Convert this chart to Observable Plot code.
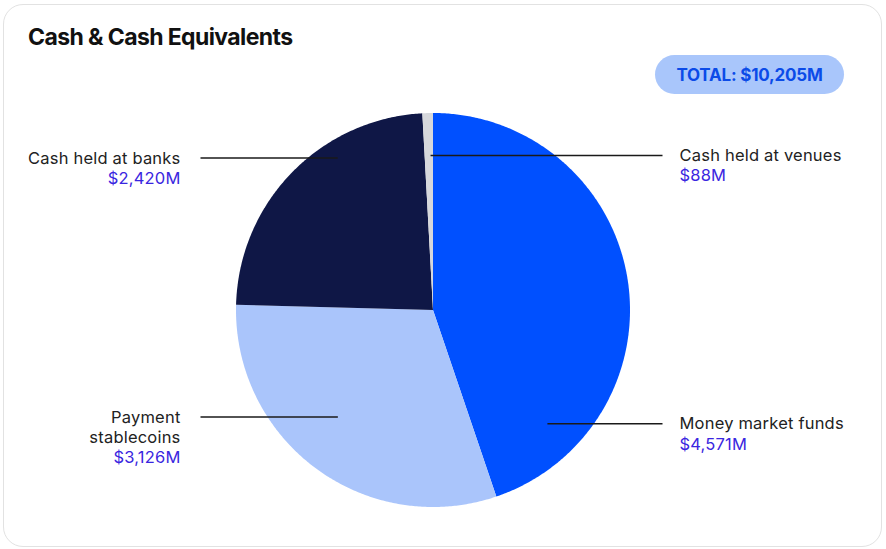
<!DOCTYPE html>
<html><head><meta charset="utf-8">
<script src="https://cdn.jsdelivr.net/npm/d3@7"></script>
<script src="https://cdn.jsdelivr.net/npm/@observablehq/plot@0.6"></script>
<style>
html,body{margin:0;padding:0;background:#fff;}
body{width:886px;height:549px;position:relative;overflow:hidden;font-family:Inter,sans-serif;}
#card{position:absolute;left:3px;top:4px;width:879px;height:543px;border:1px solid #e2e2e2;border-radius:20px;box-sizing:border-box;}
#title{position:absolute;left:28px;top:23px;font-size:23px;font-weight:700;letter-spacing:-0.6px;color:#111;}
#badge{position:absolute;left:655px;top:55px;width:189px;height:39px;border-radius:20px;background:#a9c6fb;color:#0b4be8;font-weight:700;font-size:17px;display:flex;align-items:center;justify-content:center;letter-spacing:-0.2px}
#chart{position:absolute;left:0;top:100px;}
#chart svg text{letter-spacing:0.2px;}
</style></head><body>
<div id="card"></div>
<div id="title">Cash &amp; Cash Equivalents</div>
<div id="badge"></div>
<div id="chart"></div>
<script>
// ---- data ----
const categories = ["Money market funds", "Payment stablecoins", "Cash held at banks", "Cash held at venues"];
const values = [4571, 3126, 2420, 88];
const valueLabels = ["$4,571M", "$3,126M", "$2,420M", "$88M"];
const nameLabels = ["Money market funds", "Payment\nstablecoins", "Cash held at banks", "Cash held at venues"];
const totalLabel = "TOTAL: $10,205M";
const colors = ["#0050ff", "#aac5fb", "#0f1746", "#d6d8dc"];

// ---- layout (label anchors: fraction along slice, fraction of radius, side) ----
const anchorFrac = [0.836, 0.55, 0.66, 0.65];
const anchorRad = [0.815, 0.727, 0.914, 0.787];
const labelSide = [1, -1, -1, 1];
const R = 197;
const leaderEnd = {left: 233, right: 229}, textGap = {left: 20, right: 17};

document.getElementById("badge").textContent = totalLabel;

const total = d3.sum(values);
let acc = 0;
const slices = categories.map((c, i) => {
  const a0 = acc / total * 360; acc += values[i];
  const a1 = acc / total * 360;
  return {name: c, a0, a1, i};
});
const rad = d => d * Math.PI / 180;
const pts = [];
for (const s of slices) {
  const n = Math.max(2, Math.ceil((s.a1 - s.a0) / 0.5));
  for (let k = 0; k <= n; k++) {
    const a = rad(s.a0 + (s.a1 - s.a0) * k / n);
    pts.push({name: s.name, x: R * Math.sin(a), y: R * Math.cos(a)});
  }
}
const labels = slices.map(s => {
  const a = rad(s.a0 + (s.a1 - s.a0) * anchorFrac[s.i]);
  const r = R * anchorRad[s.i];
  const side = labelSide[s.i];
  const key = side < 0 ? "left" : "right";
  const nLines = nameLabels[s.i].split("\n").length;
  return {
    ax: r * Math.sin(a), ay: r * Math.cos(a),
    lx: side * leaderEnd[key], tx: side * (leaderEnd[key] + textGap[key]), side,
    name: nameLabels[s.i], value: "\n".repeat(nLines) + valueLabels[s.i]
  };
});
const left = labels.filter(d => d.side < 0), right = labels.filter(d => d.side > 0);
const fs = 16.5, lh = 1.22, dy = -0.36 * fs - 2.5;
const textOpts = (side, field, fill) => ({
  x: "tx", y: "ay", text: field, fill, fontSize: fs, lineHeight: lh, lineAnchor: "top", dy,
  textAnchor: side < 0 ? "end" : "start", fontFamily: "Inter, sans-serif"
});

const chart = Plot.plot({
  width: 886, height: 440, margin: 0,
  x: {domain: [-433, 453], axis: null},
  y: {domain: [-230, 210], axis: null},
  color: {type: "ordinal", domain: categories, range: colors},
  marks: [
    Plot.area(pts, {x1: 0, y1: 0, x2: "x", y2: "y", fill: "name", z: "name"}),
    Plot.link(labels, {x1: "ax", y1: "ay", x2: "lx", y2: "ay", stroke: "#1a1a1a", strokeWidth: 1.5}),
    Plot.text(left, textOpts(-1, "name", "#222")),
    Plot.text(left, textOpts(-1, "value", "#3a26e0")),
    Plot.text(right, textOpts(1, "name", "#222")),
    Plot.text(right, textOpts(1, "value", "#3a26e0"))
  ]
});
document.getElementById("chart").appendChild(chart);
</script>
</body></html>
